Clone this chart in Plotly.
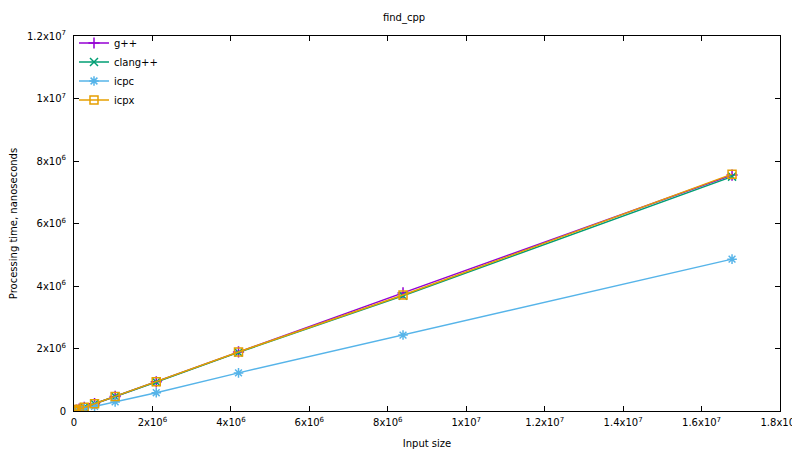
import plotly.graph_objects as go

sizes = [1024, 2048, 4096, 8192, 16384, 32768, 65536, 131072, 262144,
         524288, 1048576, 2097152, 4194304, 8388608, 16777216]
gpp = [480, 950, 1900, 3750, 7400, 14700, 29500, 59000, 117000,
       233000, 465000, 935000, 1890000, 3780000, 7550000]
clangpp = [470, 940, 1880, 3700, 7300, 14600, 29200, 58500, 116000,
           231000, 462000, 928000, 1875000, 3690000, 7500000]
icpc = [300, 600, 1200, 2400, 4750, 9500, 19000, 38000, 73000,
        146000, 292000, 585000, 1220000, 2430000, 4860000]
icpx = [480, 950, 1900, 3760, 7400, 14800, 29600, 59300, 117500,
        234000, 468000, 935000, 1890000, 3710000, 7580000]

series = [
    ("g++", gpp, "#9400d3", "cross-thin"),
    ("clang++", clangpp, "#009e73", "x-thin"),
    ("icpc", icpc, "#56b4e9", "asterisk"),
    ("icpx", icpx, "#e69f00", "square-open"),
]

xtickvals = [0, 2e6, 4e6, 6e6, 8e6, 1e7, 1.2e7, 1.4e7, 1.6e7, 1.8e7]
xticktext = ["0", "2x10<sup>6</sup>", "4x10<sup>6</sup>", "6x10<sup>6</sup>",
             "8x10<sup>6</sup>", "1x10<sup>7</sup>", "1.2x10<sup>7</sup>",
             "1.4x10<sup>7</sup>", "1.6x10<sup>7</sup>", "1.8x10<sup>7</sup>"]
ytickvals = [0, 2e6, 4e6, 6e6, 8e6, 1e7, 1.2e7]
yticktext = ["0", "2x10<sup>6</sup>", "4x10<sup>6</sup>", "6x10<sup>6</sup>",
             "8x10<sup>6</sup>", "1x10<sup>7</sup>", "1.2x10<sup>7</sup>"]

fig = go.Figure()
for name, ys, color, sym in series:
    fig.add_trace(go.Scatter(
        x=sizes, y=ys, name=name, mode="lines+markers",
        line=dict(color=color, width=1.5),
        marker=dict(symbol=sym, size=8, color=color,
                    line=dict(color=color, width=1.5)),
    ))

axis_common = dict(
    showline=True, mirror="ticks", linecolor="black", linewidth=1,
    ticks="inside", ticklen=5, tickcolor="black", showgrid=False,
    zeroline=False, tickfont=dict(size=10, color="black"), automargin=False,
)

fig.update_layout(
    width=792, height=442,
    paper_bgcolor="white", plot_bgcolor="white",
    font=dict(family="DejaVu Sans", size=10, color="black"),
    margin=dict(l=66, r=20, t=28, b=39),
    title=dict(text="find_cpp", x=0.5, xanchor="center", y=(442 - 9) / 442,
               yanchor="middle", font=dict(size=10)),
    xaxis=dict(range=[0, 1.8e7], tickvals=xtickvals, ticktext=xticktext,
               ticklabelstandoff=2,
               title=dict(text="Input size", font=dict(size=10), standoff=12),
               **axis_common),
    yaxis=dict(range=[0, 1.2e7], tickvals=ytickvals, ticktext=yticktext,
               ticklabelstandoff=5,
               title=dict(text="Processing time, nanoseconds",
                          font=dict(size=10), standoff=9),
               **axis_common),
    legend=dict(x=0.0, y=1.02, xanchor="left", yanchor="top",
                bgcolor="rgba(0,0,0,0)", font=dict(size=10),
                tracegroupgap=0, itemwidth=30),
    showlegend=True,
)

fig.write_html("out.html")
